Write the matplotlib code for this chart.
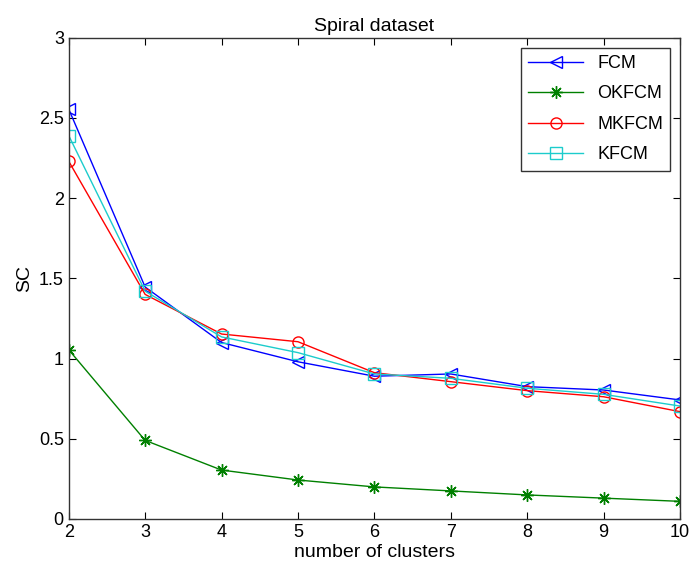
import matplotlib
matplotlib.use('Agg')
import matplotlib.pyplot as plt

plt.rcParams['font.family'] = ['Liberation Sans', 'DejaVu Sans']

# Data
clusters = [2, 3, 4, 5, 6, 7, 8, 9, 10]
fcm = [2.555, 1.446, 1.10, 0.98, 0.89, 0.904, 0.825, 0.804, 0.742]
okfcm = [1.055, 0.49, 0.305, 0.243, 0.20, 0.175, 0.15, 0.13, 0.11]
mkfcm = [2.23, 1.40, 1.153, 1.105, 0.912, 0.856, 0.80, 0.762, 0.669]
kfcm = [2.39, 1.42, 1.135, 1.037, 0.904, 0.877, 0.815, 0.777, 0.704]

fig = plt.figure(figsize=(6.9, 5.75), dpi=100)
ax = fig.add_axes([0.0996, 0.0974, 0.886, 0.837])

ax.plot(clusters, fcm, color='#0000ff', marker='<', markersize=9, markerfacecolor='none', lw=1, label='FCM')
ax.plot(clusters, okfcm, color='#008000', marker=(8, 2, 0), markersize=9, markeredgewidth=1, lw=1, label='OKFCM')
ax.plot(clusters, mkfcm, color='#ff0000', marker='o', markersize=8, markerfacecolor='none', lw=1, label='MKFCM')
ax.plot(clusters, kfcm, color='#1ccccc', marker='s', markersize=8, markerfacecolor='none', lw=1, label='KFCM')

ax.set_xlim(2, 10)
ax.set_ylim(0, 3)
ax.set_xticks(clusters)
ax.set_yticks([0, 0.5, 1, 1.5, 2, 2.5, 3])
ax.set_yticklabels(['0', '0.5', '1', '1.5', '2', '2.5', '3'])
ax.tick_params(direction='in', top=True, right=True, labelsize=13, length=5)
for s in ax.spines.values():
    s.set_linewidth(1)
    s.set_color('#333333')

ax.set_xlabel('number of clusters', fontsize=14, labelpad=2)
ax.set_ylabel('SC', fontsize=14)
ax.set_title('Spiral dataset', fontsize=14, pad=5)

leg = ax.legend(loc='upper right', fontsize=13, fancybox=False, framealpha=1,
                edgecolor='#333333', borderaxespad=0.55, handlelength=3.0,
                labelspacing=0.75)
leg.get_frame().set_linewidth(1)

fig.savefig('out.png', dpi=100)
